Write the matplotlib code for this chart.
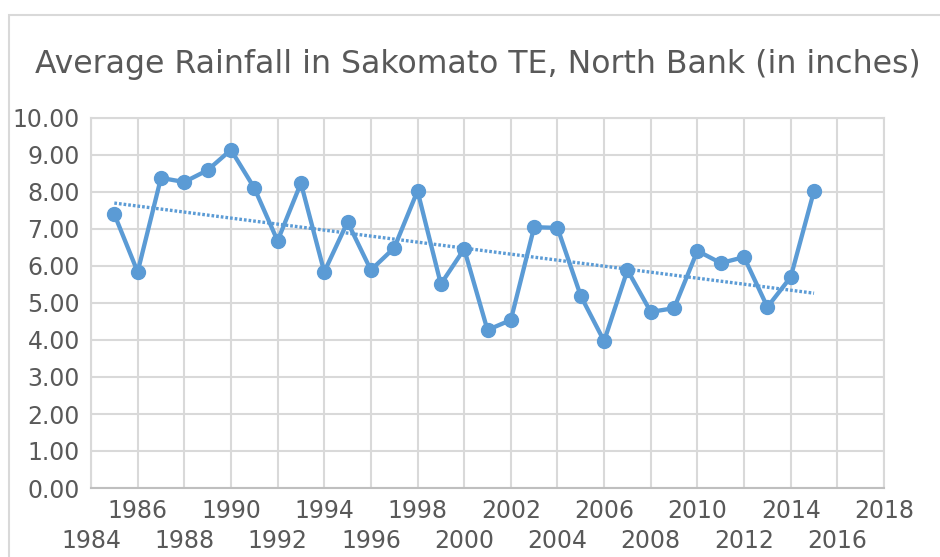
import numpy as np
import matplotlib
matplotlib.use("Agg")
import matplotlib.pyplot as plt
from matplotlib.patches import Rectangle

# data
years = list(range(1985, 2016))
rainfall = [7.40, 5.84, 8.38, 8.27, 8.59, 9.14, 8.11, 6.68, 8.24, 5.84,
            7.19, 5.89, 6.49, 8.03, 5.51, 6.46, 4.27, 4.54, 7.05, 7.03,
            5.19, 3.97, 5.89, 4.76, 4.86, 6.41, 6.08, 6.24, 4.89, 5.70, 8.03]
upper_years = list(range(1986, 2019, 4))   # first label row
lower_years = list(range(1984, 2017, 4))   # second label row

text_color = "#595959"
blue = "#5b9bd5"

plt.rcParams["font.family"] = ["DejaVu Sans"]

fig = plt.figure(figsize=(9.4, 5.57), dpi=100)
fig.patches.append(Rectangle((8.5 / 940, -0.1), 1.2, 1.1 - 14.5 / 557, transform=fig.transFigure,
                             fill=False, edgecolor="#d9d9d9", linewidth=1.5))

ax = fig.add_axes([91 / 940, 1 - 488 / 557, (884 - 91) / 940, (488 - 118) / 557])

ax.plot(years, rainfall, color=blue, linewidth=3.1, marker="o", markersize=10, zorder=3)

# linear trendline
coef = np.polyfit(years, rainfall, 1)
trend = np.polyval(coef, years)
ax.plot([years[0], years[-1]], [trend[0], trend[-1]], color=blue, linewidth=2.4,
        linestyle=(0, (0.8, 0.6)), zorder=2)

ax.set_xlim(1984, 2018)
ax.set_ylim(0, 10)
ax.set_yticks(np.arange(0, 11, 1))
ax.set_yticklabels([f"{v:.2f}" for v in range(11)])
ax.set_xticks(upper_years)
ax.set_xticklabels([str(y) for y in upper_years])
ax.set_xticks(lower_years, minor=True)
ax.set_xticklabels([str(y) for y in lower_years], minor=True)

ax.grid(True, which="both", color="#d9d9d9", linewidth=1.5)
ax.set_axisbelow(True)
for s in ax.spines.values():
    s.set_color("#d9d9d9")
    s.set_linewidth(1.5)
ax.spines["bottom"].set_color("#bfbfbf")
ax.tick_params(axis="both", which="both", length=0, labelsize=17, colors=text_color)
ax.tick_params(axis="y", pad=8)
ax.tick_params(axis="x", which="major", pad=8)
ax.tick_params(axis="x", which="minor", pad=29.5)

fig.text(478 / 940, 1 - 73.5 / 557, "Average Rainfall in Sakomato TE, North Bank (in inches)",
         ha="center", va="baseline", fontsize=22.7, color=text_color)

fig.savefig("out.png", dpi=100)
